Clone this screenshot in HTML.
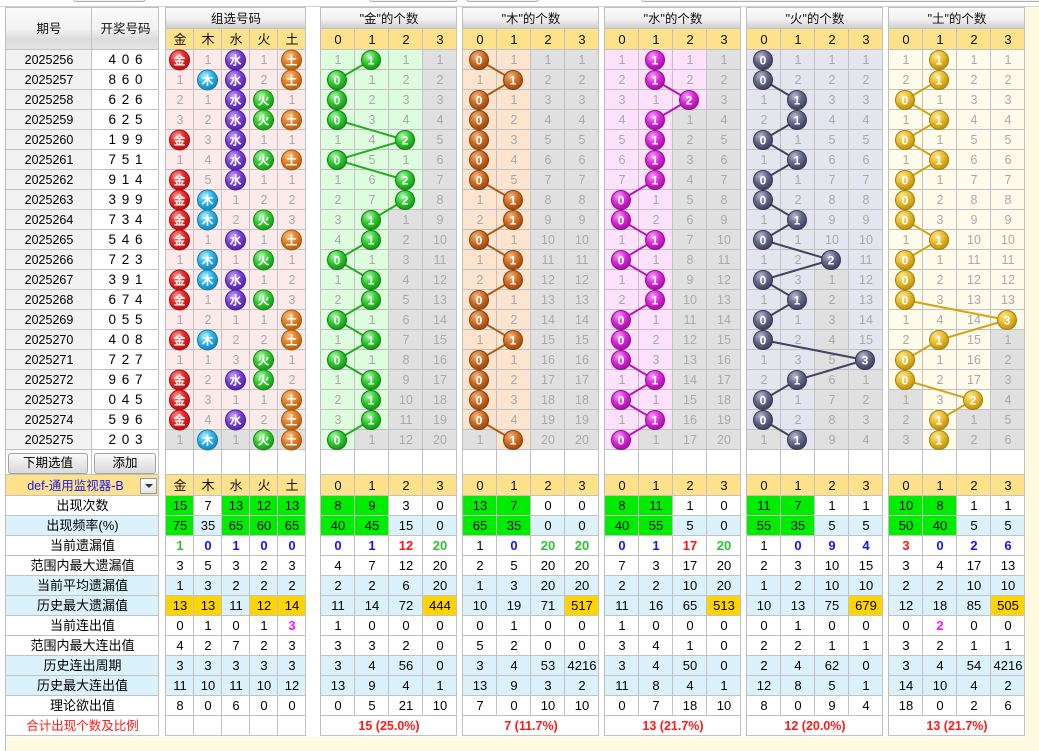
<!DOCTYPE html>
<html><head><meta charset="utf-8"><style>
*{box-sizing:border-box}
body{margin:0;width:1039px;height:751px;overflow:hidden;background:#fff;position:relative;font-family:"Liberation Sans","Noto Sans CJK SC",sans-serif}
.a{position:absolute}
.p{position:absolute;top:7px;border-left:1px solid #bdbdbd;border-top:1px solid #bdbdbd}
table{border-collapse:separate;border-spacing:0;table-layout:fixed}
td{padding:0;height:20px;text-align:center;vertical-align:middle;font-size:12.5px;color:#a9a9a9;box-shadow:inset -1px -1px #c2c2c2;white-space:nowrap;overflow:hidden;line-height:18px}
.pz td{background:#fdeaea}
.pj td{background:#defcde}
.pm td{background:#fde4cf}
.ps td{background:#fde1fd}
.ph td{background:#e5e5ef}
.pt td{background:#fffbea}
.L td{background:#fff;color:#000;font-size:12.5px}
.L td.q{background:#f2f2f2}
.L td.n{font-size:13.5px;word-spacing:2px}
.h td{height:21px;background:linear-gradient(#fbfbfb,#f1f1f1 55%,#d7d7d7 85%,#cdcdcd);color:#111;font-size:12.5px}
.h2 td{height:42px;background:linear-gradient(#fbfbfb 0%,#f2f2f2 50%,#dcdcdc 74%,#e4e4e4 100%);color:#111;font-size:12.5px}
.y td{height:21px;background:#fee28b;color:#111;font-size:13px}
.e td{height:25px;background:#fff}
.w td{background:#fff;color:#000;font-size:13px}
.bl td{background:#dbf1fc;color:#000;font-size:13px}
td.x{background:#e0e0e0}
td.gn{background:#00ec00}
td.au{background:#ffd400}
td.B{color:#1414f0;font-weight:bold}
td.R{color:#ff1414;font-weight:bold}
td.N{color:#2fc02f;font-weight:bold}
td.Mg{color:#ff14ff;font-weight:bold}
td.rd{color:#ff1a1a;font-size:12.5px}
td.tot{color:#ff1a1a;font-weight:bold;font-size:12.5px}
td.dd{color:#1a1aee;font-size:12.5px;padding-right:14px}
.btn{position:absolute;top:453px;height:21px;border:1px solid #a3a3a3;border-radius:3px;background:linear-gradient(#fafafa,#e9e9e9 50%,#dadada);font-size:12.5px;line-height:19px;text-align:center;color:#000}
.tb{position:absolute;top:-10px;height:12px;border:1px solid #adadad;border-radius:3px;background:#f0f0f0}
svg text{font-weight:bold;font-size:12px;font-family:"Liberation Sans","Noto Sans CJK SC",sans-serif;fill:#fff;text-anchor:middle}
.kJ circle{fill:url(#gJ);stroke:#127e12}
.kM circle{fill:url(#gM);stroke:#8a420e}
.kS circle{fill:url(#gS);stroke:#960e96}
.kH circle{fill:url(#gH);stroke:#383850}
.kT circle{fill:url(#gT);stroke:#a8820c}
.z1 circle{fill:url(#zJ);stroke:#a80c0c}
.z2 circle{fill:url(#zM);stroke:#137cb0}
.z3 circle{fill:url(#zS);stroke:#4a1e9e}
.z4 circle{fill:url(#zH);stroke:#168a16}
.z5 circle{fill:url(#zT);stroke:#a8560e}
</style></head><body>
<div class="tb" style="left:73px;width:73px"></div>
<div class="tb" style="left:369px;width:89px"></div>
<div class="tb" style="left:466px;width:73px"></div>
<div class="tb" style="left:641px;width:410px"></div>
<div class="a" style="left:0;top:6px;width:1039px;height:1px;background:#d0d0d0"></div>
<div class="a" style="left:5px;top:7px;width:1034px;height:744px;background:#fffbe2"></div>
<div class="a" style="left:5px;top:7px;width:1020px;height:730px;background:#fff"></div>
<div class="a" style="left:5px;top:7px;width:1px;height:744px;background:#bdbdbd"></div>

<div class="p" style="left:5px"><table class="L" style="width:153px"><col style="width:86px"><col style="width:67px">
<tr class="h2"><td>期号</td><td>开奖号码</td></tr>
<tr><td class="q">2025256</td><td class="n">4 0 6</td></tr>
<tr><td class="q">2025257</td><td class="n">8 6 0</td></tr>
<tr><td class="q">2025258</td><td class="n">6 2 6</td></tr>
<tr><td class="q">2025259</td><td class="n">6 2 5</td></tr>
<tr><td class="q">2025260</td><td class="n">1 9 9</td></tr>
<tr><td class="q">2025261</td><td class="n">7 5 1</td></tr>
<tr><td class="q">2025262</td><td class="n">9 1 4</td></tr>
<tr><td class="q">2025263</td><td class="n">3 9 9</td></tr>
<tr><td class="q">2025264</td><td class="n">7 3 4</td></tr>
<tr><td class="q">2025265</td><td class="n">5 4 6</td></tr>
<tr><td class="q">2025266</td><td class="n">7 2 3</td></tr>
<tr><td class="q">2025267</td><td class="n">3 9 1</td></tr>
<tr><td class="q">2025268</td><td class="n">6 7 4</td></tr>
<tr><td class="q">2025269</td><td class="n">0 5 5</td></tr>
<tr><td class="q">2025270</td><td class="n">4 0 8</td></tr>
<tr><td class="q">2025271</td><td class="n">7 2 7</td></tr>
<tr><td class="q">2025272</td><td class="n">9 6 7</td></tr>
<tr><td class="q">2025273</td><td class="n">0 4 5</td></tr>
<tr><td class="q">2025274</td><td class="n">5 9 6</td></tr>
<tr><td class="q">2025275</td><td class="n">2 0 3</td></tr>
<tr class="e"><td></td><td></td></tr>
<tr class="y"><td colspan="2" class="dd">def-通用监视器-B</td></tr>
<tr class="w"><td colspan="2">出现次数</td></tr>
<tr class="bl"><td colspan="2">出现频率(%)</td></tr>
<tr class="w"><td colspan="2">当前遗漏值</td></tr>
<tr class="w"><td colspan="2">范围内最大遗漏值</td></tr>
<tr class="bl"><td colspan="2">当前平均遗漏值</td></tr>
<tr class="bl"><td colspan="2">历史最大遗漏值</td></tr>
<tr class="w"><td colspan="2">当前连出值</td></tr>
<tr class="w"><td colspan="2">范围内最大连出值</td></tr>
<tr class="bl"><td colspan="2">历史连出周期</td></tr>
<tr class="bl"><td colspan="2">历史最大连出值</td></tr>
<tr class="w"><td colspan="2">理论欲出值</td></tr>
<tr class="w"><td colspan="2" class="rd">合计出现个数及比例</td></tr>
</table></div>
<div class="btn" style="left:8px;width:80px">下期选值</div>
<div class="btn" style="left:94px;width:62px">添加</div>
<div class="a" style="left:140px;top:478px;width:17px;height:16px;border:1px solid #9a9a9a;background:linear-gradient(#fff,#e4e4e4)"><div class="a" style="left:4px;top:5px;width:0;height:0;border-left:4px solid transparent;border-right:4px solid transparent;border-top:4px solid #333"></div></div>

<div class="p" style="left:165px"><table class="pz" style="width:140px"><col style="width:28px"><col style="width:28px"><col style="width:28px"><col style="width:28px"><col style="width:28px">
<tr class="h"><td colspan="5">组选号码</td></tr>
<tr class="y"><td>金</td><td>木</td><td>水</td><td>火</td><td>土</td></tr>
<tr><td></td><td>1</td><td></td><td>1</td><td></td></tr>
<tr><td>1</td><td></td><td></td><td>2</td><td></td></tr>
<tr><td>2</td><td>1</td><td></td><td></td><td>1</td></tr>
<tr><td>3</td><td>2</td><td></td><td></td><td></td></tr>
<tr><td></td><td>3</td><td></td><td>1</td><td>1</td></tr>
<tr><td>1</td><td>4</td><td></td><td></td><td></td></tr>
<tr><td></td><td>5</td><td></td><td>1</td><td>1</td></tr>
<tr><td></td><td></td><td>1</td><td>2</td><td>2</td></tr>
<tr><td></td><td></td><td>2</td><td></td><td>3</td></tr>
<tr><td></td><td>1</td><td></td><td>1</td><td></td></tr>
<tr><td>1</td><td></td><td>1</td><td></td><td>1</td></tr>
<tr><td></td><td></td><td></td><td>1</td><td>2</td></tr>
<tr><td></td><td>1</td><td></td><td></td><td>3</td></tr>
<tr><td>1</td><td>2</td><td>1</td><td>1</td><td></td></tr>
<tr><td></td><td></td><td>2</td><td>2</td><td></td></tr>
<tr><td>1</td><td>1</td><td>3</td><td></td><td>1</td></tr>
<tr><td></td><td>2</td><td></td><td></td><td>2</td></tr>
<tr><td></td><td>3</td><td>1</td><td>1</td><td></td></tr>
<tr><td></td><td>4</td><td></td><td>2</td><td></td></tr>
<tr><td class="x">1</td><td class="x"></td><td class="x">1</td><td class="x"></td><td class="x"></td></tr>
<tr class="e"><td></td><td></td><td></td><td></td><td></td></tr>
<tr class="y"><td>金</td><td>木</td><td>水</td><td>火</td><td>土</td></tr>
<tr class="w"><td class="gn">15</td><td>7</td><td class="gn">13</td><td class="gn">12</td><td class="gn">13</td></tr>
<tr class="bl"><td class="gn">75</td><td>35</td><td class="gn">65</td><td class="gn">60</td><td class="gn">65</td></tr>
<tr class="w"><td class="N">1</td><td class="B">0</td><td class="B">1</td><td class="B">0</td><td class="B">0</td></tr>
<tr class="w"><td>3</td><td>5</td><td>3</td><td>2</td><td>3</td></tr>
<tr class="bl"><td>1</td><td>3</td><td>2</td><td>2</td><td>2</td></tr>
<tr class="bl"><td class="au">13</td><td class="au">13</td><td>11</td><td class="au">12</td><td class="au">14</td></tr>
<tr class="w"><td>0</td><td>1</td><td>0</td><td>1</td><td class="Mg">3</td></tr>
<tr class="w"><td>4</td><td>2</td><td>7</td><td>2</td><td>3</td></tr>
<tr class="bl"><td>3</td><td>3</td><td>3</td><td>3</td><td>3</td></tr>
<tr class="bl"><td>11</td><td>10</td><td>11</td><td>10</td><td>12</td></tr>
<tr class="w"><td>8</td><td>0</td><td>6</td><td>0</td><td>0</td></tr>
<tr class="w"><td></td><td></td><td></td><td></td><td></td></tr>
</table></div>

<div class="p" style="left:320px"><table class="pj" style="width:136px"><col style="width:34px"><col style="width:34px"><col style="width:34px"><col style="width:34px">
<tr class="h"><td colspan="4">"金"的个数</td></tr>
<tr class="y"><td>0</td><td>1</td><td>2</td><td>3</td></tr>
<tr><td>1</td><td></td><td>1</td><td class="x">1</td></tr>
<tr><td></td><td>1</td><td>2</td><td class="x">2</td></tr>
<tr><td></td><td>2</td><td>3</td><td class="x">3</td></tr>
<tr><td></td><td>3</td><td>4</td><td class="x">4</td></tr>
<tr><td>1</td><td>4</td><td></td><td class="x">5</td></tr>
<tr><td></td><td>5</td><td>1</td><td class="x">6</td></tr>
<tr><td>1</td><td>6</td><td></td><td class="x">7</td></tr>
<tr><td>2</td><td>7</td><td></td><td class="x">8</td></tr>
<tr><td>3</td><td></td><td class="x">1</td><td class="x">9</td></tr>
<tr><td>4</td><td></td><td class="x">2</td><td class="x">10</td></tr>
<tr><td></td><td>1</td><td class="x">3</td><td class="x">11</td></tr>
<tr><td>1</td><td></td><td class="x">4</td><td class="x">12</td></tr>
<tr><td>2</td><td></td><td class="x">5</td><td class="x">13</td></tr>
<tr><td></td><td>1</td><td class="x">6</td><td class="x">14</td></tr>
<tr><td>1</td><td></td><td class="x">7</td><td class="x">15</td></tr>
<tr><td></td><td>1</td><td class="x">8</td><td class="x">16</td></tr>
<tr><td>1</td><td></td><td class="x">9</td><td class="x">17</td></tr>
<tr><td>2</td><td></td><td class="x">10</td><td class="x">18</td></tr>
<tr><td>3</td><td></td><td class="x">11</td><td class="x">19</td></tr>
<tr><td></td><td class="x">1</td><td class="x">12</td><td class="x">20</td></tr>
<tr class="e"><td></td><td></td><td></td><td></td></tr>
<tr class="y"><td>0</td><td>1</td><td>2</td><td>3</td></tr>
<tr class="w"><td class="gn">8</td><td class="gn">9</td><td>3</td><td>0</td></tr>
<tr class="bl"><td class="gn">40</td><td class="gn">45</td><td>15</td><td>0</td></tr>
<tr class="w"><td class="B">0</td><td class="B">1</td><td class="R">12</td><td class="N">20</td></tr>
<tr class="w"><td>4</td><td>7</td><td>12</td><td>20</td></tr>
<tr class="bl"><td>2</td><td>2</td><td>6</td><td>20</td></tr>
<tr class="bl"><td>11</td><td>14</td><td>72</td><td class="au">444</td></tr>
<tr class="w"><td>1</td><td>0</td><td>0</td><td>0</td></tr>
<tr class="w"><td>3</td><td>3</td><td>2</td><td>0</td></tr>
<tr class="bl"><td>3</td><td>4</td><td>56</td><td>0</td></tr>
<tr class="bl"><td>13</td><td>9</td><td>4</td><td>1</td></tr>
<tr class="w"><td>0</td><td>5</td><td>21</td><td>10</td></tr>
<tr class="w"><td colspan="4" class="tot">15 (25.0%)</td></tr>
</table></div>

<div class="p" style="left:462px"><table class="pm" style="width:136px"><col style="width:34px"><col style="width:34px"><col style="width:34px"><col style="width:34px">
<tr class="h"><td colspan="4">"木"的个数</td></tr>
<tr class="y"><td>0</td><td>1</td><td>2</td><td>3</td></tr>
<tr><td></td><td>1</td><td class="x">1</td><td class="x">1</td></tr>
<tr><td>1</td><td></td><td class="x">2</td><td class="x">2</td></tr>
<tr><td></td><td>1</td><td class="x">3</td><td class="x">3</td></tr>
<tr><td></td><td>2</td><td class="x">4</td><td class="x">4</td></tr>
<tr><td></td><td>3</td><td class="x">5</td><td class="x">5</td></tr>
<tr><td></td><td>4</td><td class="x">6</td><td class="x">6</td></tr>
<tr><td></td><td>5</td><td class="x">7</td><td class="x">7</td></tr>
<tr><td>1</td><td></td><td class="x">8</td><td class="x">8</td></tr>
<tr><td>2</td><td></td><td class="x">9</td><td class="x">9</td></tr>
<tr><td></td><td>1</td><td class="x">10</td><td class="x">10</td></tr>
<tr><td>1</td><td></td><td class="x">11</td><td class="x">11</td></tr>
<tr><td>2</td><td></td><td class="x">12</td><td class="x">12</td></tr>
<tr><td></td><td>1</td><td class="x">13</td><td class="x">13</td></tr>
<tr><td></td><td>2</td><td class="x">14</td><td class="x">14</td></tr>
<tr><td>1</td><td></td><td class="x">15</td><td class="x">15</td></tr>
<tr><td></td><td>1</td><td class="x">16</td><td class="x">16</td></tr>
<tr><td></td><td>2</td><td class="x">17</td><td class="x">17</td></tr>
<tr><td></td><td>3</td><td class="x">18</td><td class="x">18</td></tr>
<tr><td></td><td>4</td><td class="x">19</td><td class="x">19</td></tr>
<tr><td class="x">1</td><td></td><td class="x">20</td><td class="x">20</td></tr>
<tr class="e"><td></td><td></td><td></td><td></td></tr>
<tr class="y"><td>0</td><td>1</td><td>2</td><td>3</td></tr>
<tr class="w"><td class="gn">13</td><td class="gn">7</td><td>0</td><td>0</td></tr>
<tr class="bl"><td class="gn">65</td><td class="gn">35</td><td>0</td><td>0</td></tr>
<tr class="w"><td>1</td><td class="B">0</td><td class="N">20</td><td class="N">20</td></tr>
<tr class="w"><td>2</td><td>5</td><td>20</td><td>20</td></tr>
<tr class="bl"><td>1</td><td>3</td><td>20</td><td>20</td></tr>
<tr class="bl"><td>10</td><td>19</td><td>71</td><td class="au">517</td></tr>
<tr class="w"><td>0</td><td>1</td><td>0</td><td>0</td></tr>
<tr class="w"><td>5</td><td>2</td><td>0</td><td>0</td></tr>
<tr class="bl"><td>3</td><td>4</td><td>53</td><td>4216</td></tr>
<tr class="bl"><td>13</td><td>9</td><td>3</td><td>2</td></tr>
<tr class="w"><td>7</td><td>0</td><td>10</td><td>10</td></tr>
<tr class="w"><td colspan="4" class="tot">7 (11.7%)</td></tr>
</table></div>

<div class="p" style="left:604px"><table class="ps" style="width:136px"><col style="width:34px"><col style="width:34px"><col style="width:34px"><col style="width:34px">
<tr class="h"><td colspan="4">"水"的个数</td></tr>
<tr class="y"><td>0</td><td>1</td><td>2</td><td>3</td></tr>
<tr><td>1</td><td></td><td>1</td><td class="x">1</td></tr>
<tr><td>2</td><td></td><td>2</td><td class="x">2</td></tr>
<tr><td>3</td><td>1</td><td></td><td class="x">3</td></tr>
<tr><td>4</td><td></td><td class="x">1</td><td class="x">4</td></tr>
<tr><td>5</td><td></td><td class="x">2</td><td class="x">5</td></tr>
<tr><td>6</td><td></td><td class="x">3</td><td class="x">6</td></tr>
<tr><td>7</td><td></td><td class="x">4</td><td class="x">7</td></tr>
<tr><td></td><td>1</td><td class="x">5</td><td class="x">8</td></tr>
<tr><td></td><td>2</td><td class="x">6</td><td class="x">9</td></tr>
<tr><td>1</td><td></td><td class="x">7</td><td class="x">10</td></tr>
<tr><td></td><td>1</td><td class="x">8</td><td class="x">11</td></tr>
<tr><td>1</td><td></td><td class="x">9</td><td class="x">12</td></tr>
<tr><td>2</td><td></td><td class="x">10</td><td class="x">13</td></tr>
<tr><td></td><td>1</td><td class="x">11</td><td class="x">14</td></tr>
<tr><td></td><td>2</td><td class="x">12</td><td class="x">15</td></tr>
<tr><td></td><td>3</td><td class="x">13</td><td class="x">16</td></tr>
<tr><td>1</td><td></td><td class="x">14</td><td class="x">17</td></tr>
<tr><td></td><td>1</td><td class="x">15</td><td class="x">18</td></tr>
<tr><td>1</td><td></td><td class="x">16</td><td class="x">19</td></tr>
<tr><td></td><td class="x">1</td><td class="x">17</td><td class="x">20</td></tr>
<tr class="e"><td></td><td></td><td></td><td></td></tr>
<tr class="y"><td>0</td><td>1</td><td>2</td><td>3</td></tr>
<tr class="w"><td class="gn">8</td><td class="gn">11</td><td>1</td><td>0</td></tr>
<tr class="bl"><td class="gn">40</td><td class="gn">55</td><td>5</td><td>0</td></tr>
<tr class="w"><td class="B">0</td><td class="B">1</td><td class="R">17</td><td class="N">20</td></tr>
<tr class="w"><td>7</td><td>3</td><td>17</td><td>20</td></tr>
<tr class="bl"><td>2</td><td>2</td><td>10</td><td>20</td></tr>
<tr class="bl"><td>11</td><td>16</td><td>65</td><td class="au">513</td></tr>
<tr class="w"><td>1</td><td>0</td><td>0</td><td>0</td></tr>
<tr class="w"><td>3</td><td>4</td><td>1</td><td>0</td></tr>
<tr class="bl"><td>3</td><td>4</td><td>50</td><td>0</td></tr>
<tr class="bl"><td>11</td><td>8</td><td>4</td><td>1</td></tr>
<tr class="w"><td>0</td><td>7</td><td>18</td><td>10</td></tr>
<tr class="w"><td colspan="4" class="tot">13 (21.7%)</td></tr>
</table></div>

<div class="p" style="left:746px"><table class="ph" style="width:136px"><col style="width:34px"><col style="width:34px"><col style="width:34px"><col style="width:34px">
<tr class="h"><td colspan="4">"火"的个数</td></tr>
<tr class="y"><td>0</td><td>1</td><td>2</td><td>3</td></tr>
<tr><td></td><td>1</td><td>1</td><td>1</td></tr>
<tr><td></td><td>2</td><td>2</td><td>2</td></tr>
<tr><td>1</td><td></td><td>3</td><td>3</td></tr>
<tr><td>2</td><td></td><td>4</td><td>4</td></tr>
<tr><td></td><td>1</td><td>5</td><td>5</td></tr>
<tr><td>1</td><td></td><td>6</td><td>6</td></tr>
<tr><td></td><td>1</td><td>7</td><td>7</td></tr>
<tr><td></td><td>2</td><td>8</td><td>8</td></tr>
<tr><td>1</td><td></td><td>9</td><td>9</td></tr>
<tr><td></td><td>1</td><td>10</td><td>10</td></tr>
<tr><td>1</td><td>2</td><td></td><td>11</td></tr>
<tr><td></td><td>3</td><td class="x">1</td><td>12</td></tr>
<tr><td>1</td><td></td><td class="x">2</td><td>13</td></tr>
<tr><td></td><td>1</td><td class="x">3</td><td>14</td></tr>
<tr><td></td><td>2</td><td class="x">4</td><td>15</td></tr>
<tr><td>1</td><td>3</td><td class="x">5</td><td></td></tr>
<tr><td>2</td><td></td><td class="x">6</td><td class="x">1</td></tr>
<tr><td></td><td>1</td><td class="x">7</td><td class="x">2</td></tr>
<tr><td></td><td>2</td><td class="x">8</td><td class="x">3</td></tr>
<tr><td class="x">1</td><td></td><td class="x">9</td><td class="x">4</td></tr>
<tr class="e"><td></td><td></td><td></td><td></td></tr>
<tr class="y"><td>0</td><td>1</td><td>2</td><td>3</td></tr>
<tr class="w"><td class="gn">11</td><td class="gn">7</td><td>1</td><td>1</td></tr>
<tr class="bl"><td class="gn">55</td><td class="gn">35</td><td>5</td><td>5</td></tr>
<tr class="w"><td>1</td><td class="B">0</td><td class="B">9</td><td class="B">4</td></tr>
<tr class="w"><td>2</td><td>3</td><td>10</td><td>15</td></tr>
<tr class="bl"><td>1</td><td>2</td><td>10</td><td>10</td></tr>
<tr class="bl"><td>10</td><td>13</td><td>75</td><td class="au">679</td></tr>
<tr class="w"><td>0</td><td>1</td><td>0</td><td>0</td></tr>
<tr class="w"><td>2</td><td>2</td><td>1</td><td>1</td></tr>
<tr class="bl"><td>2</td><td>4</td><td>62</td><td>0</td></tr>
<tr class="bl"><td>12</td><td>8</td><td>5</td><td>1</td></tr>
<tr class="w"><td>8</td><td>0</td><td>9</td><td>4</td></tr>
<tr class="w"><td colspan="4" class="tot">12 (20.0%)</td></tr>
</table></div>

<div class="p" style="left:888px"><table class="pt" style="width:136px"><col style="width:34px"><col style="width:34px"><col style="width:34px"><col style="width:34px">
<tr class="h"><td colspan="4">"土"的个数</td></tr>
<tr class="y"><td>0</td><td>1</td><td>2</td><td>3</td></tr>
<tr><td>1</td><td></td><td>1</td><td>1</td></tr>
<tr><td>2</td><td></td><td>2</td><td>2</td></tr>
<tr><td></td><td>1</td><td>3</td><td>3</td></tr>
<tr><td>1</td><td></td><td>4</td><td>4</td></tr>
<tr><td></td><td>1</td><td>5</td><td>5</td></tr>
<tr><td>1</td><td></td><td>6</td><td>6</td></tr>
<tr><td></td><td>1</td><td>7</td><td>7</td></tr>
<tr><td></td><td>2</td><td>8</td><td>8</td></tr>
<tr><td></td><td>3</td><td>9</td><td>9</td></tr>
<tr><td>1</td><td></td><td>10</td><td>10</td></tr>
<tr><td></td><td>1</td><td>11</td><td>11</td></tr>
<tr><td></td><td>2</td><td>12</td><td>12</td></tr>
<tr><td></td><td>3</td><td>13</td><td>13</td></tr>
<tr><td>1</td><td>4</td><td>14</td><td></td></tr>
<tr><td>2</td><td></td><td>15</td><td class="x">1</td></tr>
<tr><td></td><td>1</td><td>16</td><td class="x">2</td></tr>
<tr><td></td><td>2</td><td>17</td><td class="x">3</td></tr>
<tr><td class="x">1</td><td>3</td><td></td><td class="x">4</td></tr>
<tr><td class="x">2</td><td></td><td class="x">1</td><td class="x">5</td></tr>
<tr><td class="x">3</td><td></td><td class="x">2</td><td class="x">6</td></tr>
<tr class="e"><td></td><td></td><td></td><td></td></tr>
<tr class="y"><td>0</td><td>1</td><td>2</td><td>3</td></tr>
<tr class="w"><td class="gn">10</td><td class="gn">8</td><td>1</td><td>1</td></tr>
<tr class="bl"><td class="gn">50</td><td class="gn">40</td><td>5</td><td>5</td></tr>
<tr class="w"><td class="R">3</td><td class="B">0</td><td class="B">2</td><td class="B">6</td></tr>
<tr class="w"><td>3</td><td>4</td><td>17</td><td>13</td></tr>
<tr class="bl"><td>2</td><td>2</td><td>10</td><td>10</td></tr>
<tr class="bl"><td>12</td><td>18</td><td>85</td><td class="au">505</td></tr>
<tr class="w"><td>0</td><td class="Mg">2</td><td>0</td><td>0</td></tr>
<tr class="w"><td>3</td><td>2</td><td>1</td><td>1</td></tr>
<tr class="bl"><td>3</td><td>4</td><td>54</td><td>4216</td></tr>
<tr class="bl"><td>14</td><td>10</td><td>4</td><td>2</td></tr>
<tr class="w"><td>18</td><td>0</td><td>2</td><td>6</td></tr>
<tr class="w"><td colspan="4" class="tot">13 (21.7%)</td></tr>
</table></div>

<svg class="a" style="left:0;top:0" width="1039" height="751">
<defs>
<radialGradient id="gJ" cx="38%" cy="30%" r="75%"><stop offset="0" stop-color="#b4f7b4"/><stop offset=".5" stop-color="#2ecc2e"/><stop offset="1" stop-color="#159015"/></radialGradient>
<radialGradient id="gM" cx="38%" cy="30%" r="75%"><stop offset="0" stop-color="#f5b887"/><stop offset=".5" stop-color="#cc6e24"/><stop offset="1" stop-color="#93450f"/></radialGradient>
<radialGradient id="gS" cx="38%" cy="30%" r="75%"><stop offset="0" stop-color="#f7a4f7"/><stop offset=".5" stop-color="#d82ad8"/><stop offset="1" stop-color="#9c0f9c"/></radialGradient>
<radialGradient id="gH" cx="38%" cy="30%" r="75%"><stop offset="0" stop-color="#bcbcd2"/><stop offset=".5" stop-color="#66668a"/><stop offset="1" stop-color="#3c3c56"/></radialGradient>
<radialGradient id="gT" cx="38%" cy="30%" r="75%"><stop offset="0" stop-color="#fde99a"/><stop offset=".5" stop-color="#e8bb2a"/><stop offset="1" stop-color="#b48a0c"/></radialGradient>
<radialGradient id="zJ" cx="38%" cy="30%" r="75%"><stop offset="0" stop-color="#ff9a9a"/><stop offset=".5" stop-color="#e32828"/><stop offset="1" stop-color="#b00c0c"/></radialGradient>
<radialGradient id="zM" cx="38%" cy="30%" r="75%"><stop offset="0" stop-color="#a8ecff"/><stop offset=".5" stop-color="#2cb4e4"/><stop offset="1" stop-color="#127eb6"/></radialGradient>
<radialGradient id="zS" cx="38%" cy="30%" r="75%"><stop offset="0" stop-color="#c6a4f6"/><stop offset=".5" stop-color="#7b40d6"/><stop offset="1" stop-color="#5020a6"/></radialGradient>
<radialGradient id="zH" cx="38%" cy="30%" r="75%"><stop offset="0" stop-color="#b4f7b4"/><stop offset=".5" stop-color="#30cc30"/><stop offset="1" stop-color="#169216"/></radialGradient>
<radialGradient id="zT" cx="38%" cy="30%" r="75%"><stop offset="0" stop-color="#fcc48a"/><stop offset=".5" stop-color="#e27f26"/><stop offset="1" stop-color="#b0580e"/></radialGradient>
</defs>
<g fill="none" stroke-width="2">
<polyline stroke="#1fae1f" points="371,60 337,80 337,100 337,120 405,140 337,160 405,180 405,200 371,220 371,240 337,260 371,280 371,300 337,320 371,340 337,360 371,380 371,400 371,420 337,440"/>
<polyline stroke="#b25a16" points="479,60 513,80 479,100 479,120 479,140 479,160 479,180 513,200 513,220 479,240 513,260 513,280 479,300 479,320 513,340 479,360 479,380 479,400 479,420 513,440"/>
<polyline stroke="#bf12bf" points="655,60 655,80 689,100 655,120 655,140 655,160 655,180 621,200 621,220 655,240 621,260 655,280 655,300 621,320 621,340 621,360 655,380 621,400 655,420 621,440"/>
<polyline stroke="#44445e" points="763,60 763,80 797,100 797,120 763,140 797,160 763,180 763,200 797,220 763,240 831,260 763,280 797,300 763,320 763,340 865,360 797,380 763,400 763,420 797,440"/>
<polyline stroke="#d2a418" points="939,60 939,80 905,100 939,120 905,140 939,160 905,180 905,200 905,220 939,240 905,260 905,280 905,300 1007,320 939,340 905,360 905,380 973,400 939,420 939,440"/>
</g>
<g class="kJ">
<circle cx="371" cy="60" r="9.5"/><text x="371" y="64.5">1</text>
<circle cx="337" cy="80" r="9.5"/><text x="337" y="84.5">0</text>
<circle cx="337" cy="100" r="9.5"/><text x="337" y="104.5">0</text>
<circle cx="337" cy="120" r="9.5"/><text x="337" y="124.5">0</text>
<circle cx="405" cy="140" r="9.5"/><text x="405" y="144.5">2</text>
<circle cx="337" cy="160" r="9.5"/><text x="337" y="164.5">0</text>
<circle cx="405" cy="180" r="9.5"/><text x="405" y="184.5">2</text>
<circle cx="405" cy="200" r="9.5"/><text x="405" y="204.5">2</text>
<circle cx="371" cy="220" r="9.5"/><text x="371" y="224.5">1</text>
<circle cx="371" cy="240" r="9.5"/><text x="371" y="244.5">1</text>
<circle cx="337" cy="260" r="9.5"/><text x="337" y="264.5">0</text>
<circle cx="371" cy="280" r="9.5"/><text x="371" y="284.5">1</text>
<circle cx="371" cy="300" r="9.5"/><text x="371" y="304.5">1</text>
<circle cx="337" cy="320" r="9.5"/><text x="337" y="324.5">0</text>
<circle cx="371" cy="340" r="9.5"/><text x="371" y="344.5">1</text>
<circle cx="337" cy="360" r="9.5"/><text x="337" y="364.5">0</text>
<circle cx="371" cy="380" r="9.5"/><text x="371" y="384.5">1</text>
<circle cx="371" cy="400" r="9.5"/><text x="371" y="404.5">1</text>
<circle cx="371" cy="420" r="9.5"/><text x="371" y="424.5">1</text>
<circle cx="337" cy="440" r="9.5"/><text x="337" y="444.5">0</text>
</g>
<g class="kM">
<circle cx="479" cy="60" r="9.5"/><text x="479" y="64.5">0</text>
<circle cx="513" cy="80" r="9.5"/><text x="513" y="84.5">1</text>
<circle cx="479" cy="100" r="9.5"/><text x="479" y="104.5">0</text>
<circle cx="479" cy="120" r="9.5"/><text x="479" y="124.5">0</text>
<circle cx="479" cy="140" r="9.5"/><text x="479" y="144.5">0</text>
<circle cx="479" cy="160" r="9.5"/><text x="479" y="164.5">0</text>
<circle cx="479" cy="180" r="9.5"/><text x="479" y="184.5">0</text>
<circle cx="513" cy="200" r="9.5"/><text x="513" y="204.5">1</text>
<circle cx="513" cy="220" r="9.5"/><text x="513" y="224.5">1</text>
<circle cx="479" cy="240" r="9.5"/><text x="479" y="244.5">0</text>
<circle cx="513" cy="260" r="9.5"/><text x="513" y="264.5">1</text>
<circle cx="513" cy="280" r="9.5"/><text x="513" y="284.5">1</text>
<circle cx="479" cy="300" r="9.5"/><text x="479" y="304.5">0</text>
<circle cx="479" cy="320" r="9.5"/><text x="479" y="324.5">0</text>
<circle cx="513" cy="340" r="9.5"/><text x="513" y="344.5">1</text>
<circle cx="479" cy="360" r="9.5"/><text x="479" y="364.5">0</text>
<circle cx="479" cy="380" r="9.5"/><text x="479" y="384.5">0</text>
<circle cx="479" cy="400" r="9.5"/><text x="479" y="404.5">0</text>
<circle cx="479" cy="420" r="9.5"/><text x="479" y="424.5">0</text>
<circle cx="513" cy="440" r="9.5"/><text x="513" y="444.5">1</text>
</g>
<g class="kS">
<circle cx="655" cy="60" r="9.5"/><text x="655" y="64.5">1</text>
<circle cx="655" cy="80" r="9.5"/><text x="655" y="84.5">1</text>
<circle cx="689" cy="100" r="9.5"/><text x="689" y="104.5">2</text>
<circle cx="655" cy="120" r="9.5"/><text x="655" y="124.5">1</text>
<circle cx="655" cy="140" r="9.5"/><text x="655" y="144.5">1</text>
<circle cx="655" cy="160" r="9.5"/><text x="655" y="164.5">1</text>
<circle cx="655" cy="180" r="9.5"/><text x="655" y="184.5">1</text>
<circle cx="621" cy="200" r="9.5"/><text x="621" y="204.5">0</text>
<circle cx="621" cy="220" r="9.5"/><text x="621" y="224.5">0</text>
<circle cx="655" cy="240" r="9.5"/><text x="655" y="244.5">1</text>
<circle cx="621" cy="260" r="9.5"/><text x="621" y="264.5">0</text>
<circle cx="655" cy="280" r="9.5"/><text x="655" y="284.5">1</text>
<circle cx="655" cy="300" r="9.5"/><text x="655" y="304.5">1</text>
<circle cx="621" cy="320" r="9.5"/><text x="621" y="324.5">0</text>
<circle cx="621" cy="340" r="9.5"/><text x="621" y="344.5">0</text>
<circle cx="621" cy="360" r="9.5"/><text x="621" y="364.5">0</text>
<circle cx="655" cy="380" r="9.5"/><text x="655" y="384.5">1</text>
<circle cx="621" cy="400" r="9.5"/><text x="621" y="404.5">0</text>
<circle cx="655" cy="420" r="9.5"/><text x="655" y="424.5">1</text>
<circle cx="621" cy="440" r="9.5"/><text x="621" y="444.5">0</text>
</g>
<g class="kH">
<circle cx="763" cy="60" r="9.5"/><text x="763" y="64.5">0</text>
<circle cx="763" cy="80" r="9.5"/><text x="763" y="84.5">0</text>
<circle cx="797" cy="100" r="9.5"/><text x="797" y="104.5">1</text>
<circle cx="797" cy="120" r="9.5"/><text x="797" y="124.5">1</text>
<circle cx="763" cy="140" r="9.5"/><text x="763" y="144.5">0</text>
<circle cx="797" cy="160" r="9.5"/><text x="797" y="164.5">1</text>
<circle cx="763" cy="180" r="9.5"/><text x="763" y="184.5">0</text>
<circle cx="763" cy="200" r="9.5"/><text x="763" y="204.5">0</text>
<circle cx="797" cy="220" r="9.5"/><text x="797" y="224.5">1</text>
<circle cx="763" cy="240" r="9.5"/><text x="763" y="244.5">0</text>
<circle cx="831" cy="260" r="9.5"/><text x="831" y="264.5">2</text>
<circle cx="763" cy="280" r="9.5"/><text x="763" y="284.5">0</text>
<circle cx="797" cy="300" r="9.5"/><text x="797" y="304.5">1</text>
<circle cx="763" cy="320" r="9.5"/><text x="763" y="324.5">0</text>
<circle cx="763" cy="340" r="9.5"/><text x="763" y="344.5">0</text>
<circle cx="865" cy="360" r="9.5"/><text x="865" y="364.5">3</text>
<circle cx="797" cy="380" r="9.5"/><text x="797" y="384.5">1</text>
<circle cx="763" cy="400" r="9.5"/><text x="763" y="404.5">0</text>
<circle cx="763" cy="420" r="9.5"/><text x="763" y="424.5">0</text>
<circle cx="797" cy="440" r="9.5"/><text x="797" y="444.5">1</text>
</g>
<g class="kT">
<circle cx="939" cy="60" r="9.5"/><text x="939" y="64.5">1</text>
<circle cx="939" cy="80" r="9.5"/><text x="939" y="84.5">1</text>
<circle cx="905" cy="100" r="9.5"/><text x="905" y="104.5">0</text>
<circle cx="939" cy="120" r="9.5"/><text x="939" y="124.5">1</text>
<circle cx="905" cy="140" r="9.5"/><text x="905" y="144.5">0</text>
<circle cx="939" cy="160" r="9.5"/><text x="939" y="164.5">1</text>
<circle cx="905" cy="180" r="9.5"/><text x="905" y="184.5">0</text>
<circle cx="905" cy="200" r="9.5"/><text x="905" y="204.5">0</text>
<circle cx="905" cy="220" r="9.5"/><text x="905" y="224.5">0</text>
<circle cx="939" cy="240" r="9.5"/><text x="939" y="244.5">1</text>
<circle cx="905" cy="260" r="9.5"/><text x="905" y="264.5">0</text>
<circle cx="905" cy="280" r="9.5"/><text x="905" y="284.5">0</text>
<circle cx="905" cy="300" r="9.5"/><text x="905" y="304.5">0</text>
<circle cx="1007" cy="320" r="9.5"/><text x="1007" y="324.5">3</text>
<circle cx="939" cy="340" r="9.5"/><text x="939" y="344.5">1</text>
<circle cx="905" cy="360" r="9.5"/><text x="905" y="364.5">0</text>
<circle cx="905" cy="380" r="9.5"/><text x="905" y="384.5">0</text>
<circle cx="973" cy="400" r="9.5"/><text x="973" y="404.5">2</text>
<circle cx="939" cy="420" r="9.5"/><text x="939" y="424.5">1</text>
<circle cx="939" cy="440" r="9.5"/><text x="939" y="444.5">1</text>
</g>
<g class="z1">
<circle cx="179.5" cy="60" r="10"/><text x="179.5" y="64.5">金</text>
<circle cx="179.5" cy="140" r="10"/><text x="179.5" y="144.5">金</text>
<circle cx="179.5" cy="180" r="10"/><text x="179.5" y="184.5">金</text>
<circle cx="179.5" cy="200" r="10"/><text x="179.5" y="204.5">金</text>
<circle cx="179.5" cy="220" r="10"/><text x="179.5" y="224.5">金</text>
<circle cx="179.5" cy="240" r="10"/><text x="179.5" y="244.5">金</text>
<circle cx="179.5" cy="280" r="10"/><text x="179.5" y="284.5">金</text>
<circle cx="179.5" cy="300" r="10"/><text x="179.5" y="304.5">金</text>
<circle cx="179.5" cy="340" r="10"/><text x="179.5" y="344.5">金</text>
<circle cx="179.5" cy="380" r="10"/><text x="179.5" y="384.5">金</text>
<circle cx="179.5" cy="400" r="10"/><text x="179.5" y="404.5">金</text>
<circle cx="179.5" cy="420" r="10"/><text x="179.5" y="424.5">金</text>
</g>
<g class="z2">
<circle cx="207.5" cy="80" r="10"/><text x="207.5" y="84.5">木</text>
<circle cx="207.5" cy="200" r="10"/><text x="207.5" y="204.5">木</text>
<circle cx="207.5" cy="220" r="10"/><text x="207.5" y="224.5">木</text>
<circle cx="207.5" cy="260" r="10"/><text x="207.5" y="264.5">木</text>
<circle cx="207.5" cy="280" r="10"/><text x="207.5" y="284.5">木</text>
<circle cx="207.5" cy="340" r="10"/><text x="207.5" y="344.5">木</text>
<circle cx="207.5" cy="440" r="10"/><text x="207.5" y="444.5">木</text>
</g>
<g class="z3">
<circle cx="235.5" cy="60" r="10"/><text x="235.5" y="64.5">水</text>
<circle cx="235.5" cy="80" r="10"/><text x="235.5" y="84.5">水</text>
<circle cx="235.5" cy="100" r="10"/><text x="235.5" y="104.5">水</text>
<circle cx="235.5" cy="120" r="10"/><text x="235.5" y="124.5">水</text>
<circle cx="235.5" cy="140" r="10"/><text x="235.5" y="144.5">水</text>
<circle cx="235.5" cy="160" r="10"/><text x="235.5" y="164.5">水</text>
<circle cx="235.5" cy="180" r="10"/><text x="235.5" y="184.5">水</text>
<circle cx="235.5" cy="240" r="10"/><text x="235.5" y="244.5">水</text>
<circle cx="235.5" cy="280" r="10"/><text x="235.5" y="284.5">水</text>
<circle cx="235.5" cy="300" r="10"/><text x="235.5" y="304.5">水</text>
<circle cx="235.5" cy="380" r="10"/><text x="235.5" y="384.5">水</text>
<circle cx="235.5" cy="420" r="10"/><text x="235.5" y="424.5">水</text>
</g>
<g class="z4">
<circle cx="263.5" cy="100" r="10"/><text x="263.5" y="104.5">火</text>
<circle cx="263.5" cy="120" r="10"/><text x="263.5" y="124.5">火</text>
<circle cx="263.5" cy="160" r="10"/><text x="263.5" y="164.5">火</text>
<circle cx="263.5" cy="220" r="10"/><text x="263.5" y="224.5">火</text>
<circle cx="263.5" cy="260" r="10"/><text x="263.5" y="264.5">火</text>
<circle cx="263.5" cy="300" r="10"/><text x="263.5" y="304.5">火</text>
<circle cx="263.5" cy="360" r="10"/><text x="263.5" y="364.5">火</text>
<circle cx="263.5" cy="380" r="10"/><text x="263.5" y="384.5">火</text>
<circle cx="263.5" cy="440" r="10"/><text x="263.5" y="444.5">火</text>
</g>
<g class="z5">
<circle cx="291.5" cy="60" r="10"/><text x="291.5" y="64.5">土</text>
<circle cx="291.5" cy="80" r="10"/><text x="291.5" y="84.5">土</text>
<circle cx="291.5" cy="120" r="10"/><text x="291.5" y="124.5">土</text>
<circle cx="291.5" cy="160" r="10"/><text x="291.5" y="164.5">土</text>
<circle cx="291.5" cy="240" r="10"/><text x="291.5" y="244.5">土</text>
<circle cx="291.5" cy="320" r="10"/><text x="291.5" y="324.5">土</text>
<circle cx="291.5" cy="340" r="10"/><text x="291.5" y="344.5">土</text>
<circle cx="291.5" cy="400" r="10"/><text x="291.5" y="404.5">土</text>
<circle cx="291.5" cy="420" r="10"/><text x="291.5" y="424.5">土</text>
<circle cx="291.5" cy="440" r="10"/><text x="291.5" y="444.5">土</text>
</g>
</svg>
</body></html>
